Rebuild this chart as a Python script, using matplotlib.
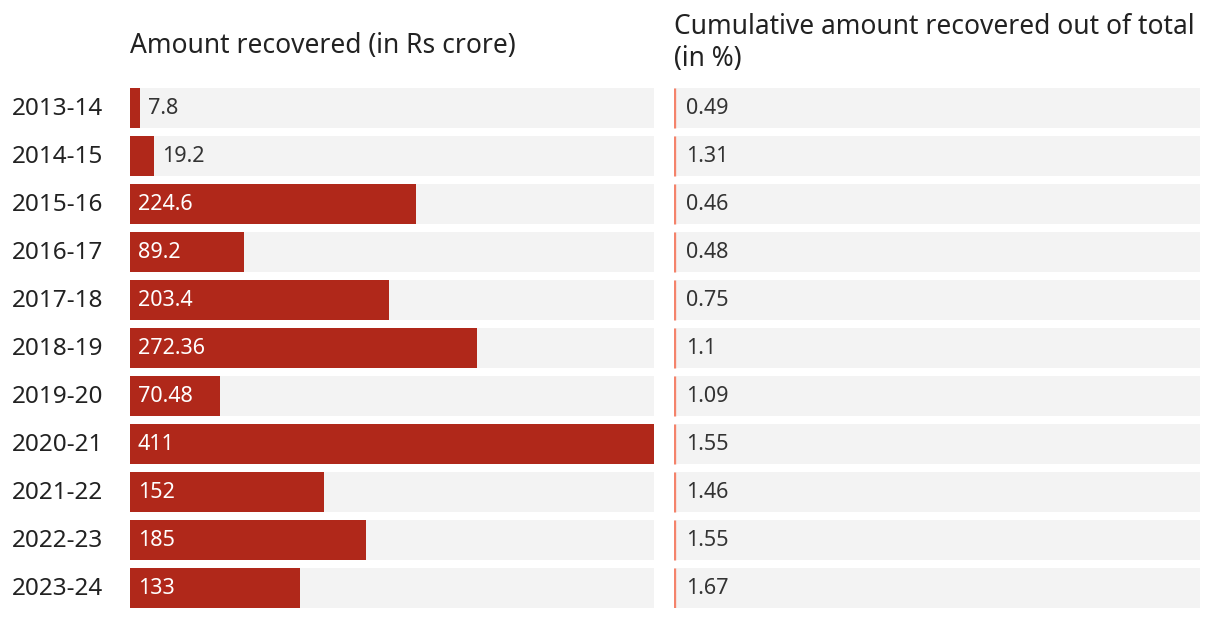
import matplotlib
matplotlib.use("Agg")
import matplotlib.pyplot as plt
from matplotlib.transforms import offset_copy

years = ["2013-14", "2014-15", "2015-16", "2016-17", "2017-18", "2018-19",
         "2019-20", "2020-21", "2021-22", "2022-23", "2023-24"]
amount = [7.8, 19.2, 224.6, 89.2, 203.4, 272.36, 70.48, 411, 152, 185, 133]
amount_labels = ["7.8", "19.2", "224.6", "89.2", "203.4", "272.36", "70.48", "411", "152", "185", "133"]
cum_pct = [0.49, 1.31, 0.46, 0.48, 0.75, 1.1, 1.09, 1.55, 1.46, 1.55, 1.67]
cum_labels = ["0.49", "1.31", "0.46", "0.48", "0.75", "1.1", "1.09", "1.55", "1.46", "1.55", "1.67"]

plt.rcParams['font.family'] = ['Noto Sans', 'DejaVu Sans']

BAR = "#b0281a"
BG = "#f3f3f3"
SALMON = "#f4836b"
TXT = "#333333"

fig = plt.figure(figsize=(12.2, 6.18), dpi=100)
axL = fig.add_axes([130/1220, 1-608/618, 524/1220, 520/618])
axR = fig.add_axes([674/1220, 1-608/618, 526/1220, 520/618])

n = len(years)
ypos = list(range(n))
h = 40/48
xmax = max(amount)

for ax in (axL, axR):
    ax.set_ylim(n - 1 + 0.5*h, -0.5*h)
    for s in ax.spines.values():
        s.set_visible(False)
    ax.set_xticks([])
    ax.set_yticks([])

axL.set_xlim(0, xmax)
axL.barh(ypos, [xmax]*n, height=h, color=BG, zorder=1)
axL.barh(ypos, amount, height=h, color=BAR, zorder=2)
for i, (v, lab) in enumerate(zip(amount, amount_labels)):
    t = offset_copy(axL.transData, fig=fig, x=8, y=-1, units='dots')
    if v > 40:
        axL.text(0, i, lab, transform=t, ha='left', va='center',
                 fontsize=15.5, color='white', zorder=3)
    else:
        axL.text(v, i, lab, transform=t, ha='left', va='center',
                 fontsize=15.5, color=TXT, zorder=3)
    ty = offset_copy(axL.transData, fig=fig, x=0, y=-1, units='dots')
    axL.text(-118/524*xmax, i, years[i], transform=ty, ha='left', va='center',
             fontsize=17.5, color='#222222', clip_on=False)

axR.set_xlim(0, 1)
axR.barh(ypos, [1]*n, height=h, color=BG, zorder=1)
axR.vlines([0]*n, [y - h/2 for y in ypos], [y + h/2 for y in ypos],
           color=SALMON, linewidth=2.4, zorder=2)
for i, lab in enumerate(cum_labels):
    t = offset_copy(axR.transData, fig=fig, x=12, y=-1, units='dots')
    axR.text(0, i, lab, transform=t, ha='left', va='center',
             fontsize=15.5, color=TXT, zorder=3)

fig.text(130/1220, 1-46/618, "Amount recovered (in Rs crore)", ha='left', va='center',
         fontsize=19, color='#222222')
fig.text(674/1220, 1-43/618, "Cumulative amount recovered out of total\n(in %)", ha='left',
         va='center', fontsize=19, color='#222222', linespacing=1.2)

fig.savefig("out.png", dpi=100, facecolor='white')
